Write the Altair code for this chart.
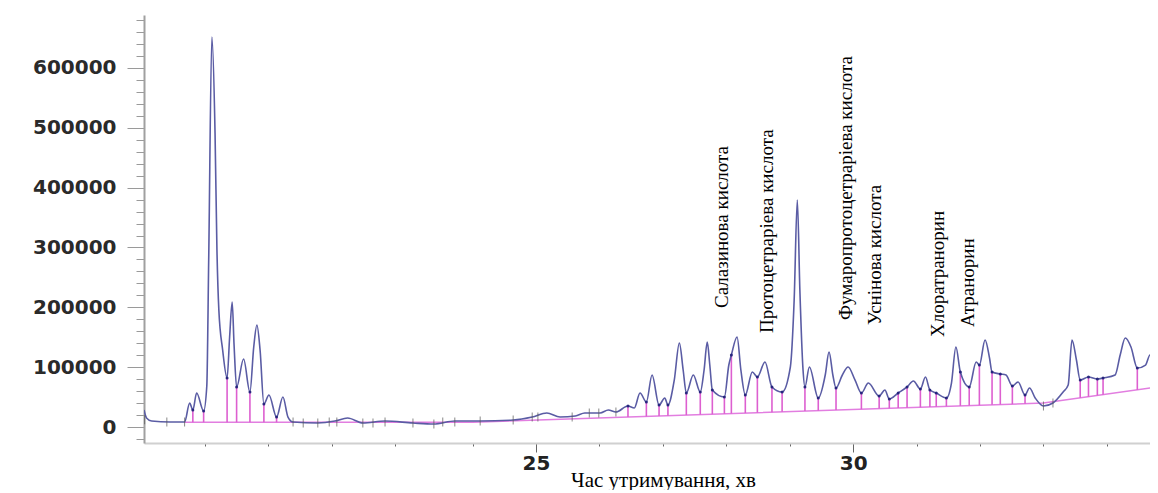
import altair as alt
import pandas as pd

# Chromatogram trace (retention time, min ; signal)
time = [18.82, 18.86, 18.94, 19.23, 19.46, 19.54, 19.59, 19.65, 19.76, 19.81,
        19.84, 19.89, 19.94, 19.97, 20.00, 20.06, 20.13, 20.17, 20.21, 20.24,
        20.28, 20.39, 20.49, 20.55, 20.60, 20.65, 20.71, 20.79, 20.91, 21.01,
        21.09, 21.17, 21.56, 21.83, 22.03, 22.27, 22.62, 23.06, 23.39, 23.72,
        24.12, 24.64, 24.94, 25.17, 25.38, 25.62, 25.77, 26.01, 26.14, 26.26,
        26.45, 26.55, 26.64, 26.74, 26.83, 26.94, 27.03, 27.08, 27.18, 27.26,
        27.32, 27.37, 27.48, 27.59, 27.65, 27.70, 27.74, 27.78, 27.97, 28.04,
        28.08, 28.17, 28.23, 28.30, 28.41, 28.49, 28.61, 28.72, 28.88, 29.01,
        29.07, 29.12, 29.16, 29.21, 29.24, 29.31, 29.45, 29.56, 29.62, 29.68,
        29.73, 29.83, 29.92, 30.03, 30.13, 30.24, 30.41, 30.50, 30.57, 30.71,
        30.85, 30.95, 31.06, 31.14, 31.21, 31.31, 31.47, 31.55, 31.62, 31.69,
        31.83, 31.94, 31.99, 32.08, 32.15, 32.19, 32.32, 32.41, 32.51, 32.60,
        32.71, 32.78, 32.87, 33.00, 33.15, 33.31, 33.39, 33.45, 33.52, 33.58,
        33.71, 33.85, 33.94, 34.13, 34.21, 34.29, 34.38, 34.48, 34.61, 34.68,
        34.81]
signal = [28400, 15000, 10000, 8400, 8400, 40100, 28400, 56800, 26700, 68500,
          279000, 651700, 491300, 295800, 195500, 128700, 81900, 150400, 208900, 137000,
          66900, 113600, 58500, 133700, 170400, 128700, 38400, 53500, 16700, 50100,
          16700, 8400, 6700, 10000, 15000, 6700, 10000, 6700, 5000, 10000,
          10000, 11700, 16700, 23400, 16700, 18400, 23400, 23400, 28400, 25100,
          35100, 31800, 56800, 41800, 86900, 36800, 48500, 36800, 78500, 140400,
          95300, 56800, 86900, 58500, 95300, 142000, 103600, 61800, 50100, 103600,
          120300, 150400, 95300, 53500, 91900, 83600, 108600, 66900, 58500, 100300,
          212200, 379300, 228900, 95300, 66900, 100300, 48500, 86900, 125300, 86900,
          65200, 86900, 100300, 78500, 56800, 73500, 51800, 61800, 46800, 56800,
          66900, 76900, 63500, 83600, 61800, 56800, 48500, 73500, 133700, 91900,
          66900, 108600, 103600, 145400, 115300, 91900, 88600, 86900, 68500, 75200,
          53500, 65200, 48500, 35100, 40100, 58500, 70200, 145400, 112000, 78500,
          83600, 80200, 81900, 86900, 120300, 148700, 133700, 98600, 103600, 120300,
          103600]

# Integration baseline
base_t = [19.46, 24.0, 33.0, 34.81]
base_v = [8000, 8000, 40000, 67000]

# Peak-boundary drop lines
drop_t = [19.59, 19.76, 20.13, 20.28, 20.49, 20.71, 20.91,
          26.45, 26.74, 26.94, 27.08, 27.37, 27.59, 27.78, 27.97, 28.08, 28.30,
          28.49, 28.72, 28.88, 29.24, 29.45, 29.73, 30.13, 30.41, 30.57, 30.71,
          30.85, 31.06, 31.21, 31.31, 31.47, 31.69, 31.83, 31.99, 32.19, 32.32,
          32.51, 32.71,
          33.58, 33.71, 33.85, 33.94, 34.48]
drop_top = [28400, 26700, 81900, 66900, 58500, 38400, 16700,
            35100, 41800, 36800, 36800, 56800, 58500, 61800, 50100, 120300, 53500,
            83600, 66900, 58500, 66900, 48500, 65200, 56800, 51800, 46800, 56800,
            66900, 63500, 61800, 56800, 48500, 91900, 66900, 103600, 91900, 88600,
            68500, 53500,
            78500, 83600, 80200, 81900, 98600]
drop_base = [8000] * 7 + [
    16700, 17700, 18500, 19000, 20000, 20800, 21400, 22100, 22600, 23300,
    24000, 24800, 25400, 26600, 27400, 28400, 29800, 30800, 31400, 31900,
    32400, 33000, 33600, 34000, 34600, 35300, 35800, 36400, 37100, 37600,
    38300, 39000,
    48800, 50600, 52700, 54000, 62100]

# Integration event ticks on the flat part of the trace
event_t = [18.83, 19.18, 19.46, 21.17, 21.33, 21.56, 21.74, 21.86, 22.27, 22.43,
           22.62, 23.06, 23.39, 23.53, 23.72, 24.12, 24.64, 24.94, 25.03, 25.57,
           25.84, 25.99, 26.26, 33.00, 33.15]
event_v = [12000, 8400, 8400, 8400, 6700, 6700, 8400, 8400, 6700, 6700,
           8400, 6700, 5000, 8400, 8400, 10000, 11700, 16700, 16700, 16700,
           23400, 23400, 25100, 35100, 40100]

# Compound annotations
ann_label = ["Салазинова  кислота", "Протоцетраріева кислота",
             "Фумаропротоцетраріева кислота", "Уснінова кислота",
             "Хлоратранорин", "Атранорин"]
ann_t = [27.93, 28.64, 29.89, 30.35, 31.34, 31.81]
ann_v = [199000, 157000, 179000, 170500, 150400, 167000]

x_ticks = [19.78, 20.78, 21.78, 22.78, 24, 25, 26, 27, 28, 29, 30, 31, 32, 33, 34]
x_labels = [25, 30]
y_ticks = list(range(-20000, 680001, 20000))

curve_df = pd.DataFrame({"t": time, "v": signal})
base_df = pd.DataFrame({"t": base_t, "v": base_v})
drop_df = pd.DataFrame({"t": drop_t, "v": drop_top, "v2": drop_base})
event_df = pd.DataFrame({"t": event_t, "v": event_v})
ann_df = pd.DataFrame({"t": ann_t, "v": ann_v, "label": ann_label})

x_scale = alt.Scale(domain=[18.82, 34.68], nice=False, zero=False)
y_scale = alt.Scale(domain=[-26700, 688500], nice=False, zero=False)

lab_test = " || ".join(f"datum.value == {v}" for v in x_labels)
x_axis = alt.Axis(
    values=x_ticks,
    labelExpr=f"({lab_test}) ? format(datum.value, 'd') : ''",
    tickSize={"condition": {"test": lab_test, "value": 9}, "value": 3},
    tickColor="#666666", tickWidth=1,
    domainColor="#d0d0d0", domainWidth=2,
    labelFont="DejaVu Sans", labelFontWeight="bold", labelFontSize=20,
    labelColor="#222222", labelPadding=1, labelOverlap=False, labelFlush=False,
    title="Час утримування, хв", titleFont="Liberation Serif", titleFontSize=21,
    titleFontWeight="normal", titleColor="#000000",
    titleX=519, titleY=43, titleBaseline="alphabetic",
    grid=False,
)
y_axis = alt.Axis(
    values=y_ticks,
    labelExpr="(datum.value >= 0 && datum.value % 100000 == 0) ? format(datum.value, 'd') : ''",
    tickSize={"condition": {"test": "datum.value % 100000 == 0", "value": 17}, "value": 8},
    tickColor="#9a9a9a", tickWidth=1,
    domainColor="#a0a0a0", domainWidth=2,
    labelFont="DejaVu Sans", labelFontWeight="bold", labelFontSize=20,
    labelColor="#2a2a2a", labelPadding=11, labelOverlap=False, labelFlush=False,
    title=None, minExtent=136, maxExtent=136, grid=False,
)

X = alt.X("t:Q", scale=x_scale, axis=x_axis)
Y = alt.Y("v:Q", scale=y_scale, axis=y_axis)

baseline = alt.Chart(base_df).mark_line(color="#e27ee0", strokeWidth=1.5, clip=True).encode(x=X, y=Y)
drops = alt.Chart(drop_df).mark_rule(color="#dd5fd0", strokeWidth=1.6, clip=True).encode(
    x=X, y=Y, y2="v2:Q")
curve = alt.Chart(curve_df).mark_line(
    color="#5a5ca4", strokeWidth=1.6, interpolate="monotone", clip=True).encode(x=X, y=Y)
dots = alt.Chart(drop_df).mark_point(
    filled=True, color="#1e1e78", size=9, opacity=0.9, clip=True).encode(x=X, y=Y)
events = alt.Chart(event_df).mark_tick(
    orient="vertical", color="#555555", size=9, thickness=1, clip=True).encode(x=X, y=Y)
labels = alt.Chart(ann_df).mark_text(
    angle=270, align="left", baseline="middle", font="Liberation Serif",
    fontSize=19, color="#000000").encode(x=X, y=Y, text="label:N")

chart = alt.layer(baseline, drops, curve, dots, events, labels).properties(
    width=1006, height=428,
    padding={"left": 0, "top": 2, "right": 0, "bottom": 0},
).configure_view(stroke=None)

chart.save("out.html", embed_options={"renderer": "svg", "actions": False})
